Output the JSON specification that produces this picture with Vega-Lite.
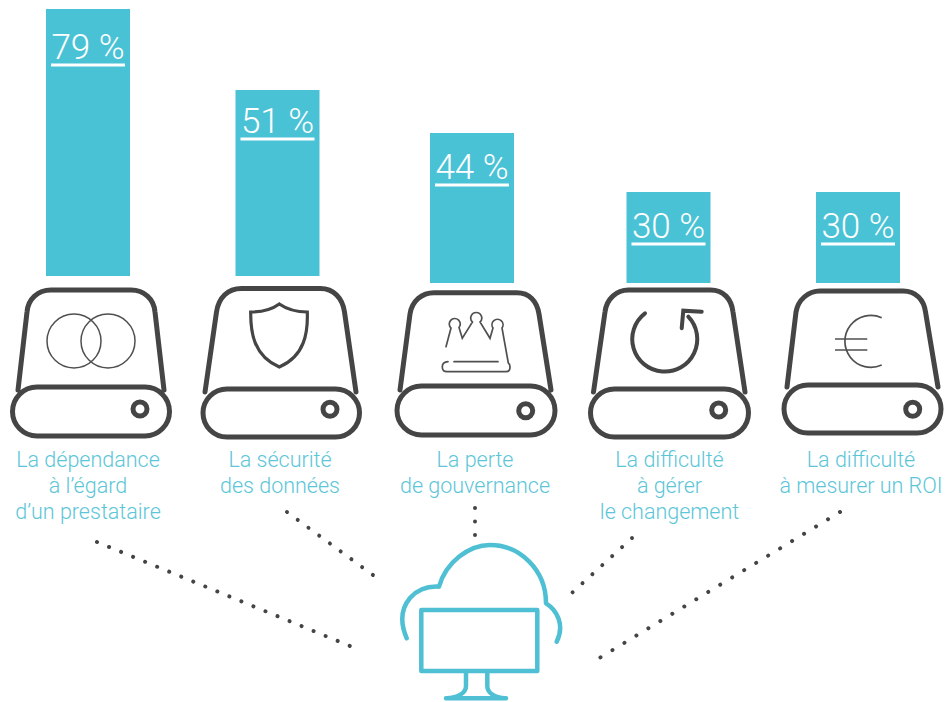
{
"$schema":"https://vega.github.io/schema/vega-lite/v6.json",
"width":946,"height":702,
"autosize":{"type":"fit","contains":"padding"},
"padding":0,
"background":"white",
"view":{"stroke":null},
"data":{"values":[
{"rank":1,"pct":79,"base":0,"share":"79 %","label":"La dépendance\nà l’égard\nd’un prestataire"},
{"rank":2,"pct":51,"base":0,"share":"51 %","label":"La sécurité\ndes données"},
{"rank":3,"pct":44,"base":-2,"share":"44 %","label":"La perte\nde gouvernance"},
{"rank":4,"pct":30,"base":-2,"share":"30 %","label":"La difficulté\nà gérer\nle changement"},
{"rank":5,"pct":30,"base":-2,"share":"30 %","label":"La difficulté\nà mesurer un ROI"}
]},
"encoding":{"x":{"field":"rank","type":"quantitative","axis":null,"scale":{"domain":[1,2,3,4,5],"range":[88,277.5,472,668.5,858],"nice":false,"zero":false,"padding":0}}},
"layer":[
{"encoding":{"y":{"field":"pct","type":"quantitative","axis":null,"scale":{"domain":[-2,0,30,44,51,79],"range":[283,276,192,133,90,9],"nice":false,"zero":false,"padding":0}}},
 "layer":[
  {"mark":{"type":"bar","orient":"vertical","width":84,"color":"#4ac2d6"},"encoding":{"y2":{"field":"base"}}},
  {"mark":{"type":"text","color":"white","font":"Roboto","fontWeight":300,"fontSize":35,"align":"center","baseline":"middle","dy":{"expr":"datum.pct==79?39:datum.pct==51?32:35"}},"encoding":{"text":{"field":"share"}}},
  {"mark":{"type":"point","shape":"M -37,0 H 37","size":4,"filled":false,"opacity":1,"stroke":"white","strokeWidth":3,"yOffset":{"expr":"datum.pct==79?56:datum.pct==51?49:52"}}}
 ]},
{"encoding":{"y":{"datum":"drive","type":"nominal","axis":null,"scale":{"type":"point","domain":["drive","caption","hub"],"range":[280,620],"padding":0}}},
 "layer":[
  {"mark":{"type":"text","color":"#5cc6d8","font":"Roboto","fontWeight":300,"fontSize":21.5,"lineHeight":26,"lineBreak":"\n","align":"center","baseline":"top","dx":{"expr":"[0,2.5,3,1,3][datum.rank-1]"}},
   "encoding":{"y":{"datum":"caption"},"text":{"field":"label"}}},

  {"transform":[{"filter":"datum.rank==1"}],"mark":{"type":"point","shape":"M -70,110 L -61,32 C -60,19 -50,10 -37,10 L 43,10 C 56,10 66,19 67,32 L 76,110 M -51,107 H 57 A 24.5 24.5 0 0 1 57,156 H -51 A 24.5 24.5 0 0 1 -51,107 Z M 59,129 A 7 7 0 1 1 45,129 A 7 7 0 1 1 59,129 Z","size":4,"filled":false,"opacity":1,"stroke":"#454545","strokeWidth":5,"strokeCap":"round"}},
  {"transform":[{"filter":"datum.rank==1"}],"mark":{"type":"point","shape":"M 13,61 A 27 27 0 1 1 -41,61 A 27 27 0 1 1 13,61 Z M 47,61 A 27 27 0 1 1 -7,61 A 27 27 0 1 1 47,61 Z","size":4,"filled":false,"opacity":1,"stroke":"#505050","strokeWidth":1.5}},

  {"transform":[{"filter":"datum.rank==2"}],"mark":{"type":"point","shape":"M -72.5,112 L -61,32 C -59,18 -50,8.5 -36,8.5 L 43,8.5 C 56,8.5 65,18 67,32 L 78.5,112 M -50.5,109 H 58 A 24 24 0 0 1 58,157 H -50.5 A 24 24 0 0 1 -50.5,109 Z M 59.5,129.3 A 7 7 0 1 1 45.5,129.3 A 7 7 0 1 1 59.5,129.3 Z","size":4,"filled":false,"opacity":1,"stroke":"#454545","strokeWidth":5,"strokeCap":"round"}},
  {"transform":[{"filter":"datum.rank==2"}],"mark":{"type":"point","shape":"M 1.8,24 C -5,29 -15,32 -26.8,32 C -27,52 -24,76 1.8,87 C 27.5,76 30.5,52 29.8,32 C 18,32 9,29 1.8,24 Z","size":4,"filled":false,"opacity":1,"stroke":"#454545","strokeWidth":3.2}},

  {"transform":[{"filter":"datum.rank==3"}],"mark":{"type":"point","shape":"M -72,110 L -62,34 C -60,21 -50,12.7 -38,12.7 L 45,12.7 C 57,12.7 65,21 67,34 L 79,110 M -50.5,106 H 58.5 A 24.5 24.5 0 0 1 58.5,155 H -50.5 A 24.5 24.5 0 0 1 -50.5,106 Z M 60.7,130.7 A 7 7 0 1 1 46.7,130.7 A 7 7 0 1 1 60.7,130.7 Z","size":4,"filled":false,"opacity":1,"stroke":"#454545","strokeWidth":5,"strokeCap":"round"}},
  {"transform":[{"filter":"datum.rank==3"}],"mark":{"type":"point","shape":"M -26,66.7 L -21,48 A 5.5 5.5 0 1 1 -13,47.5 L -9.7,58.3 L 0.5,42 A 5.5 5.5 0 1 1 8,42 L 18,58.3 L 21,48 A 5.5 5.5 0 1 1 30,48 L 36.3,83 Q 38,84 38,87 Q 38,91.7 34,91.7 L -25,91.7 Q -29.7,91.7 -29.7,87 Q -29.7,82 -24,81.7 M -18,81.7 L 26,81.7","size":4,"filled":false,"opacity":1,"stroke":"#505050","strokeWidth":1.7,"strokeCap":"round"}},

  {"transform":[{"filter":"datum.rank==4"}],"mark":{"type":"point","shape":"M -75,112 L -63.5,32 C -62,19 -52,10 -40,10 L 42,10 C 55,10 63,19 64.5,32 L 76.5,112 M -54,109 H 56 A 24 24 0 0 1 56,157 H -54 A 24 24 0 0 1 -54,109 Z M 57.2,130 A 7 7 0 1 1 43.2,130 A 7 7 0 1 1 57.2,130 Z","size":4,"filled":false,"opacity":1,"stroke":"#454545","strokeWidth":5,"strokeCap":"round"}},
  {"transform":[{"filter":"datum.rank==4"}],"mark":{"type":"point","shape":"M -23.5,33.3 A 32.5 32.5 0 1 0 19.8,36.7 M 13.2,48.3 L 14.8,30.7 L 33.2,31.7","size":4,"filled":false,"opacity":1,"stroke":"#454545","strokeWidth":4,"strokeCap":"round"}},

  {"transform":[{"filter":"datum.rank==5"}],"mark":{"type":"point","shape":"M -71,107 L -62,32 C -60,20 -50,11 -38,11 L 45,11 C 58,11 66,20 67.5,32 L 80,107 M -50,105 H 59 A 24 24 0 0 1 59,153 H -50 A 24 24 0 0 1 -50,105 Z M 61.7,129.3 A 7 7 0 1 1 47.7,129.3 A 7 7 0 1 1 61.7,129.3 Z","size":4,"filled":false,"opacity":1,"stroke":"#454545","strokeWidth":5,"strokeCap":"round"}},
  {"transform":[{"filter":"datum.rank==5"}],"mark":{"type":"point","shape":"M 23.7,37.7 A 26 26 0 1 0 23.7,85 M -23,59 L 9.3,59 M -23,70 L 9.3,70","size":4,"filled":false,"opacity":1,"stroke":"#505050","strokeWidth":1.7}},

  {"transform":[{"filter":"datum.rank==3"}],"mark":{"type":"point","shape":"M -50.7,-10 H 65.3 V 51 H -50.7 Z M -6,51 V 66 C -6,73 -14,77 -24,78.3 M 15.3,51 V 66 C 15.3,73 23,77 32,78.3 M -26,78.3 H 34 M -65.3,18.3 C -71,5 -72,-10 -62,-22 C -54,-31 -45,-34 -33,-33.3 C -26,-58 -3,-75 18,-75 C 48,-75 74,-50 74,-16.7 C 85,-10 93,5 84.7,21.7","size":4,"filled":false,"opacity":1,"stroke":"#4fc0d3","strokeWidth":4.5,"strokeCap":"round","strokeJoin":"round"},
   "encoding":{"y":{"datum":"hub"}}},
  {"transform":[{"filter":"datum.rank==3"}],"mark":{"type":"point","shape":"M -375,-78 L -122,26","size":4,"filled":false,"opacity":1,"stroke":"#444444","strokeWidth":4,"strokeCap":"round","strokeDash":[0.01,13]},"encoding":{"y":{"datum":"hub"}}},
  {"transform":[{"filter":"datum.rank==3"}],"mark":{"type":"point","shape":"M -185,-108 L -95,-42","size":4,"filled":false,"opacity":1,"stroke":"#444444","strokeWidth":4,"strokeCap":"round","strokeDash":[0.01,13.3]},"encoding":{"y":{"datum":"hub"}}},
  {"transform":[{"filter":"datum.rank==3"}],"mark":{"type":"point","shape":"M 3,-112 L 3,-84","size":4,"filled":false,"opacity":1,"stroke":"#444444","strokeWidth":4,"strokeCap":"round","strokeDash":[0.01,13.5]},"encoding":{"y":{"datum":"hub"}}},
  {"transform":[{"filter":"datum.rank==3"}],"mark":{"type":"point","shape":"M 160,-82 L 98.7,-26","size":4,"filled":false,"opacity":1,"stroke":"#444444","strokeWidth":4,"strokeCap":"round","strokeDash":[0.01,13.4]},"encoding":{"y":{"datum":"hub"}}},
  {"transform":[{"filter":"datum.rank==3"}],"mark":{"type":"point","shape":"M 368,-108 L 126.3,38.7","size":4,"filled":false,"opacity":1,"stroke":"#444444","strokeWidth":4,"strokeCap":"round","strokeDash":[0.01,14]},"encoding":{"y":{"datum":"hub"}}}
 ]}
],
"resolve":{"scale":{"y":"independent"}}
}
